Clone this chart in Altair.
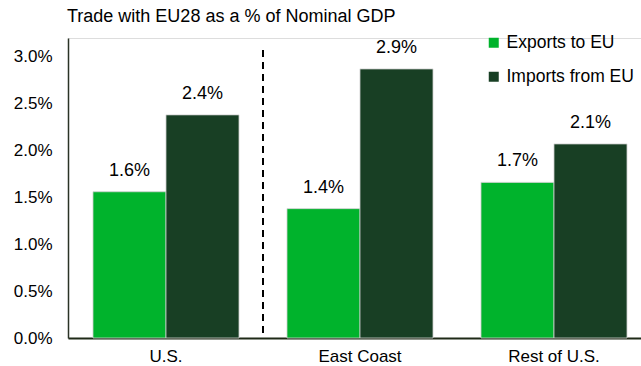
import altair as alt
import pandas as pd

regions = ["U.S.", "East Coast", "Rest of U.S."]
series_names = ["Exports to EU", "Imports from EU"]
exports_vals = [0.0156, 0.0138, 0.0166]
imports_vals = [0.0238, 0.0287, 0.0207]
colors = ["#00B32C", "#183F24"]

rows = []
for i, r in enumerate(regions):
    rows.append({"region": r, "series": series_names[0], "value": exports_vals[i]})
    rows.append({"region": r, "series": series_names[1], "value": imports_vals[i]})
df = pd.DataFrame(rows)

x = alt.X("region:N", sort=regions, title=None,
          scale=alt.Scale(paddingInner=0.2474, paddingOuter=0.1005, align=0.641),
          axis=alt.Axis(labelAngle=0, ticks=False, labelFontSize=17, labelPadding=10,
                        labelColor="#000000", domainColor="#1f2a17", domainWidth=2,
                        labelFont="Liberation Sans"))
xo = alt.XOffset("series:N", sort=series_names,
                 scale=alt.Scale(paddingInner=0, paddingOuter=0))
y = alt.Y("value:Q", title=None,
          scale=alt.Scale(domain=[0, 0.032], nice=False),
          axis=alt.Axis(values=[0, 0.005, 0.01, 0.015, 0.02, 0.025, 0.03], format=".1%",
                        ticks=False, grid=False, labelFontSize=17, labelPadding=16,
                        labelColor="#000000", domainColor="#2a3326", domainWidth=1.5,
                        labelFont="Liberation Sans"))

bars = alt.Chart(df).mark_bar(stroke="#d0d0d0", strokeWidth=0.8).encode(
    x=x, xOffset=xo, y=y,
    color=alt.Color("series:N", sort=series_names,
                    scale=alt.Scale(domain=series_names, range=colors),
                    legend=alt.Legend(title=None, orient="none", legendX=417, legendY=-4,
                                      symbolType="square", symbolSize=100,
                                      symbolStrokeWidth=0, labelFontSize=17.5,
                                      labelOffset=4, rowPadding=15, padding=0,
                                      labelFont="Liberation Sans", labelColor="#000000")),
)

labels = alt.Chart(df).mark_text(dy=-16, baseline="alphabetic", fontSize=18,
                                  font="Liberation Sans", color="#000000").encode(
    x=x, xOffset=xo, y=y,
    text=alt.Text("value:Q", format=".1%"),
)

divider = alt.Chart(df).mark_rule(strokeDash=[7, 5], strokeWidth=2, color="#000000").encode(
    x=alt.value(195), y=alt.value(12), y2=alt.value(300)
)

chart = alt.layer(bars, labels, divider).properties(
    width=573, height=300,
    padding={"left": 68, "top": 38, "right": 0, "bottom": 28},
    autosize=alt.AutoSizeParams(type="none"),
    title=alt.Title("Trade with EU28 as a % of Nominal GDP", anchor="start", frame="group",
                    fontSize=18, fontWeight="normal", font="Liberation Sans",
                    color="#000000", offset=8, dx=-1),
).configure_view(stroke=None).configure(background="white")

chart.save("out.html", embed_options={"renderer": "svg", "actions": False})
